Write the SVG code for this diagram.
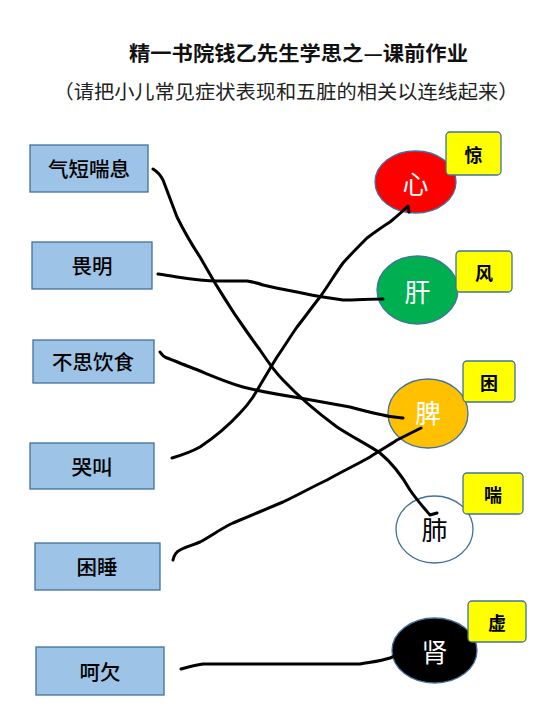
<svg xmlns="http://www.w3.org/2000/svg" width="533" height="717" viewBox="0 0 533 717">
<style>
.sym rect{fill:#9DC3E6;stroke:#41719C;stroke-width:1.3}
.sym text{font-family:"Noto Sans CJK SC","Liberation Sans",sans-serif;font-size:20.5px;font-weight:500;fill:#000;text-anchor:middle;dominant-baseline:central}
.org ellipse{stroke:#41719C;stroke-width:1.3}
.org text{font-family:"Noto Sans CJK SC","Liberation Sans",sans-serif;font-size:26px;text-anchor:middle;dominant-baseline:central}
.tag rect{fill:#FFFF00;stroke:#41719C;stroke-width:1.3}
.tag text{font-family:"Noto Sans CJK SC","Liberation Sans",sans-serif;font-size:18px;font-weight:bold;fill:#000;text-anchor:middle;dominant-baseline:central}
.ttl{font-family:"Noto Sans CJK SC","Liberation Sans",sans-serif;text-anchor:middle;dominant-baseline:central}
#connectors path{fill:none;stroke:#000;stroke-width:3;stroke-linecap:round;stroke-linejoin:round}
</style>
<rect width="533" height="717" fill="#fff"/>
<text class="ttl" x="298.5" y="52" font-size="20" font-weight="bold" fill="#111" textLength="339" lengthAdjust="spacingAndGlyphs">精一书院钱乙先生学思之—课前作业</text>
<text class="ttl" x="286" y="90" font-size="19.5" fill="#222" textLength="465" lengthAdjust="spacingAndGlyphs">（请把小儿常见症状表现和五脏的相关以连线起来）</text>

<g id="n-qiduan" class="sym"><rect x="30" y="145" width="118" height="47"/><text x="89" y="168">气短喘息</text></g>
<g id="n-weiming" class="sym"><rect x="32" y="242" width="120" height="47"/><text x="92" y="265">畏明</text></g>
<g id="n-busi" class="sym"><rect x="33" y="340" width="121" height="43"/><text x="93" y="361">不思饮食</text></g>
<g id="n-kujiao" class="sym"><rect x="30" y="443" width="124" height="46"/><text x="92" y="466">哭叫</text></g>
<g id="n-kunshui" class="sym"><rect x="35" y="543" width="125" height="47"/><text x="97" y="566">困睡</text></g>
<g id="n-hoqian" class="sym"><rect x="36" y="647" width="128" height="48"/><text x="100" y="671">呵欠</text></g>

<g id="n-xin" class="org"><ellipse cx="415.5" cy="182" rx="40.5" ry="31" fill="#FF0000"/><text x="415.5" y="182" fill="#fff">心</text></g>
<g id="n-gan" class="org"><ellipse cx="417.5" cy="290" rx="40.5" ry="34" fill="#00B050"/><text x="417.5" y="290" fill="#fff">肝</text></g>
<g id="n-pi" class="org"><ellipse cx="428" cy="413.5" rx="40" ry="34.5" fill="#FFC000"/><text x="428" y="411" fill="#fff">脾</text></g>
<g id="n-fei" class="org"><ellipse cx="434.5" cy="529.5" rx="38.5" ry="33.5" fill="#fff"/><text x="434.5" y="528" fill="#000">肺</text></g>
<g id="n-shen" class="org"><ellipse cx="434.5" cy="650.5" rx="42.5" ry="32.5" fill="#000"/><text x="434.5" y="650.5" fill="#fff">肾</text></g>

<g id="t-jing" class="tag"><rect x="446" y="132" width="55" height="43" rx="4"/><text x="473.5" y="153.5">惊</text></g>
<g id="t-feng" class="tag"><rect x="456" y="251" width="56" height="41" rx="4"/><text x="484" y="271.5">风</text></g>
<g id="t-kun" class="tag"><rect x="463" y="361" width="52" height="41" rx="4"/><text x="489" y="381.5">困</text></g>
<g id="t-chuan" class="tag"><rect x="463" y="473" width="60" height="41" rx="4"/><text x="493" y="493.5">喘</text></g>
<g id="t-xu" class="tag"><rect x="468" y="601" width="58" height="41" rx="4"/><text x="497" y="621.5">虚</text></g>

<g id="connectors">
<path d="M153,169 C158,172 161,176 163,180 L177,217 C185,233 192,245 200,257 L215,283 C230,308 245,330 260,350 C268,362 275,372 283,380 C300,398 318,413 337,427 C352,437 367,444 380,453 C392,463 402,476 410,490 C416,499 424,508 430,515 L437,513"/>
<path d="M158,274 C165,275 171,276 177,277 C190,279 204,281 217,281 L247,281 C253,282 258,283 263,285 C275,288 286,290 297,292 C306,294 315,296 323,297 C330,298 336,299 343,300 C356,300 370,299 383,299"/>
<path d="M160,352 C162,355 164,357 167,358 C175,361 182,364 190,367 C208,374 225,382 243,387 C262,392 281,395 300,398 C317,401 334,404 350,407 C361,410 372,413 383,415 C390,417 397,417 403,418"/>
<path d="M172,458 C182,455 191,452 200,447 C215,437 229,425 240,413 C245,408 249,403 253,397 C261,384 269,370 277,357 C284,347 290,337 297,327 C305,317 312,307 320,297 C328,286 335,274 343,263 C351,254 359,246 367,238 C375,232 382,227 390,222 C396,217 402,212 408,206 L409,212"/>
<path d="M173,560 C174,555 176,552 180,550 C186,547 193,545 200,542 C211,536 222,528 233,523 C250,516 266,509 283,502 C298,495 312,487 327,480 C341,472 356,465 370,457 C379,451 388,446 397,440 C405,436 413,432 421,428"/>
<path d="M181,669 C188,667 195,665 203,664 C255,664 308,664 360,664 C371,662 381,661 390,658 L395,656"/>
</g>
</svg>
